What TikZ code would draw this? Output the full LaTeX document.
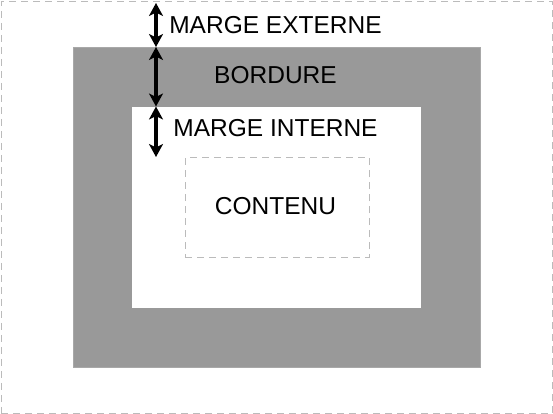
\documentclass[tikz,border=0pt]{standalone}
\usepackage{fontspec}
\setmainfont{Liberation Sans}
\usetikzlibrary{arrows.meta}
\definecolor{bordergray}{HTML}{999999}
\definecolor{dashgray}{HTML}{BBBBBB}
\begin{document}
\begin{tikzpicture}[x=1pt,y=-1pt,
  lbl/.style={font=\fontsize{24.5}{28}\selectfont, inner sep=0pt, anchor=base},
  dbox/.style={draw=dashgray, dash pattern=on 7pt off 5pt, line width=1pt, inner sep=0pt, anchor=north west},
  solidbox/.style={inner sep=0pt, anchor=north west},
  dimarrow/.style={line width=3.2pt, {Stealth[length=13pt,width=14pt,inset=3.5pt]}-{Stealth[length=13pt,width=14pt,inset=3.5pt]}}]
\useasboundingbox (0,0) rectangle (553,414);
\node[dbox, minimum width=551pt, minimum height=412.5pt] (page) at (0.8,0.8) {};
\node[solidbox, fill=bordergray, draw=bordergray!85!white, line width=0.8pt, minimum width=407pt, minimum height=320pt] (border) at (73,47) {};
\node[solidbox, fill=white, minimum width=288.5pt, minimum height=201pt] (inner) at (132,106.5) {};
\node[dbox, minimum width=184pt, minimum height=99.5pt] (content) at (184.5,157) {};
\coordinate (a0) at (156,3);
\coordinate (a1) at (156,47);
\coordinate (a2) at (156,106.5);
\coordinate (a3) at (156,157);
\draw[dimarrow] (a0) -- (a1);
\draw[dimarrow] (a1) -- (a2);
\draw[dimarrow] (a2) -- (a3);
\node[lbl] (ext) at (275.5,33.3) {MARGE EXTERNE};
\node[lbl] (bord) at (275.5,83.3) {BORDURE};
\node[lbl] (int) at (275.5,136.7) {MARGE INTERNE};
\node[lbl] (cont) at (275.5,214) {CONTENU};
\end{tikzpicture}
\end{document}
